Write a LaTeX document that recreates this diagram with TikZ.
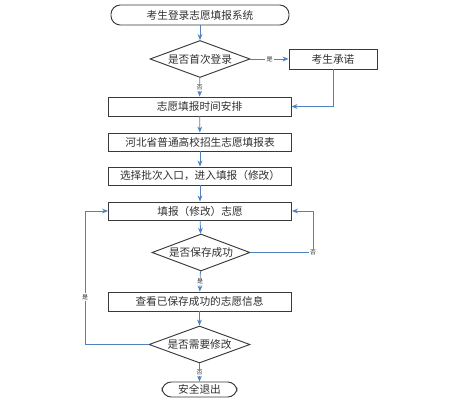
\documentclass[tikz,border=0pt]{standalone}
\usepackage{fontspec}
\setmainfont{Noto Sans CJK SC}
\usepackage{xcolor}
\definecolor{flowBlue}{HTML}{4F81BD}
\definecolor{flowLine}{HTML}{3A3A3A}
\definecolor{flowText}{HTML}{303030}
\usetikzlibrary{arrows.meta, shapes.geometric}
\newdimen\unitpx
\unitpx=0.75pt
\tikzset{
  %% ── Boxes ────────────────────────────────────────────────────────────
  etape/.style     = {draw=flowLine, line width=0.7pt, fill=white,
                      text=flowText, minimum width=183\unitpx,
                      minimum height=19\unitpx, inner sep=0pt,
                      font=\fontsize{8}{9.6}\selectfont},
  terminal/.style  = {etape, rounded corners=7pt},
  question/.style  = {diamond, draw=flowLine, line width=0.7pt, fill=white,
                      text=flowText, inner sep=0pt, aspect=2.7,
                      minimum width=100\unitpx, minimum height=37\unitpx,
                      font=\fontsize{8}{9.6}\selectfont},
  %%
  %% ── Arrows ───────────────────────────────────────────────────────────
  fleche/.style    = {-{Stealth[length=4.5pt, width=3.6pt]}, draw=flowBlue,
                      line width=0.6pt},
  %%
  %% ── Text ─────────────────────────────────────────────────────────────
  reponse/.style   = {font=\fontsize{4.5}{5}\selectfont, fill=white,
                      text=flowText, inner sep=0.8pt},
}

\begin{document}
\begin{tikzpicture}[x=0.75pt, y=-0.75pt]

\useasboundingbox (0,0) rectangle (450,406);

%% Les etapes, dans l'ordre du parcours.
\node[terminal, minimum width=178\unitpx, minimum height=20\unitpx] (login) at (200,15) {考生登录志愿填报系统};
\node[question] (premiere) at (200,59) {是否首次登录};
\node[etape, minimum width=88\unitpx, minimum height=20\unitpx] (promesse) at (333,59) {考生承诺};
\node[etape] (calendrier) at (199.5,106.5) {志愿填报时间安排};
\node[etape, minimum height=18\unitpx] (tableau) at (200,142) {河北省普通高校招生志愿填报表};
\node[etape, minimum height=18\unitpx] (entree) at (200,176) {选择批次入口，进入填报（修改）};
\node[etape, minimum height=18\unitpx] (saisie) at (200,211) {填报（修改）志愿};
\node[question, minimum width=98\unitpx] (sauve) at (201,252.5) {是否保存成功};
\node[etape] (consulte) at (199.5,301.5) {查看已保存成功的志愿信息};
\node[question, minimum width=101\unitpx] (modif) at (199.5,344.5) {是否需要修改};
\node[terminal, minimum width=75\unitpx, minimum height=15\unitpx] (sortie) at (199.5,389.5) {安全退出};

%% Le fil principal.
\draw[fleche] (login) -- (premiere);
\draw[fleche] (premiere) -- node[reponse] {是} (promesse);
\draw[fleche] (premiere) -- node[reponse] {否} (calendrier);
\draw[fleche] (promesse.south) |- (calendrier.east);
\draw[fleche] (calendrier) -- (tableau);
\draw[fleche] (tableau) -- (entree);
\draw[fleche] (entree) -- (saisie);
\draw[fleche] (saisie) -- (sauve);
\draw[fleche] (sauve) -- node[reponse] {是} (consulte);
\draw[fleche] (consulte) -- (modif);
\draw[fleche] (modif) -- node[reponse] {否} (sortie);

%% Les deux retours vers la saisie.
\coordinate (retourNon) at (313,252.5);
\coordinate (retourOui) at (85,344.5);
\draw[fleche] (sauve.east) -- (retourNon) |- (saisie.east);
\node[reponse] (non) at (retourNon) {否};
\draw[fleche] (modif.west) -- (retourOui) |- (saisie.west);
\node[reponse] (oui) at (85,297) {是};

\end{tikzpicture}
\end{document}
